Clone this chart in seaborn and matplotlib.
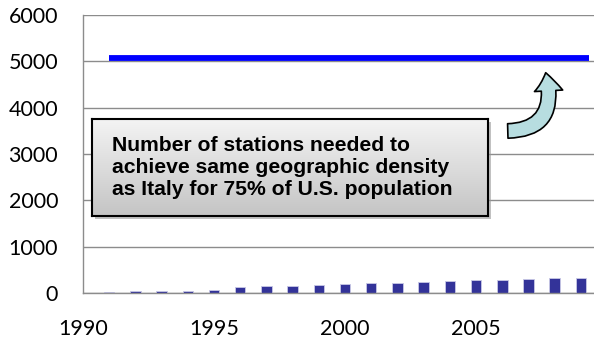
import numpy as np
import pandas as pd
import matplotlib
matplotlib.use("Agg")
import matplotlib.pyplot as plt
import seaborn as sns
from matplotlib.patches import FancyArrowPatch, FancyBboxPatch
from matplotlib.colors import LinearSegmentedColormap

# Stations per year
years = [1991, 1992, 1993, 1994, 1995, 1996, 1997, 1998, 1999, 2000,
         2001, 2002, 2003, 2004, 2005, 2006, 2007, 2008, 2009]
stations = [20, 35, 35, 45, 58, 137, 150, 158, 180, 200,
            209, 223, 245, 259, 273, 288, 310, 324, 331]

# Target level for geographic density
target_years = [1991, 2009.3]
target_value = [5070, 5070]

yticks = [0, 1000, 2000, 3000, 4000, 5000, 6000]
xticks = [1990, 1995, 2000, 2005]
note = ("Number of stations needed to\n"
        "achieve same geographic density\n"
        "as Italy for 75% of U.S. population")

sns.set_theme(style="white")
plt.rcParams['font.family'] = ['Lato', 'DejaVu Sans']

fig = plt.figure(figsize=(5.94, 3.40), dpi=100)
ax = fig.add_axes([83 / 594, 1 - 293 / 340, 1 - 83 / 594, (293 - 15) / 340])

df = pd.DataFrame({"year": years, "stations": stations})
sns.barplot(data=df, x="year", y="stations", native_scale=True, width=0.4,
            color="#333399", saturation=1, edgecolor="#c8c8e6", linewidth=0.6,
            ax=ax, zorder=3)

tdf = pd.DataFrame({"year": target_years, "value": target_value})
sns.lineplot(data=tdf, x="year", y="value", color="#0000ff", linewidth=4.2,
             ax=ax, zorder=4, solid_capstyle="butt")

ax.set_xlim(1990, 2009.5)
ax.set_ylim(0, 6000)
ax.set_yticks(yticks)
ax.set_xticks(xticks)
ax.set_xticklabels([str(t) for t in xticks])
ax.set_yticklabels([str(t) for t in yticks])
ax.set_xlabel("")
ax.set_ylabel("")
ax.yaxis.grid(True, color="#8c8c8c", linewidth=1.0, zorder=0)
ax.xaxis.grid(False)
ax.set_axisbelow(True)
for s in ["top", "right"]:
    ax.spines[s].set_visible(False)
for s in ["left", "bottom"]:
    ax.spines[s].set_color("#8c8c8c")
    ax.spines[s].set_linewidth(1.0)
ax.tick_params(axis="both", which="both", width=1.0, color="#8c8c8c",
               labelsize=15.5, labelcolor="black", direction="out")
ax.tick_params(axis="y", pad=12, length=6)
ax.tick_params(axis="x", pad=12, length=7)
ax.spines["bottom"].set_zorder(5)

# Callout box with a grey gradient and drop shadow
bx0, by0, bw, bh = 92 / 594, 1 - 216 / 340, (488 - 92) / 594, (216 - 119) / 340
shadow = FancyBboxPatch((bx0 + 3 / 594, by0 - 3 / 340), bw, bh,
                        boxstyle="square,pad=0", transform=fig.transFigure,
                        facecolor="#999999", edgecolor="none", alpha=0.6, zorder=6)
fig.patches.append(shadow)
grad = np.linspace(0, 1, 256).reshape(-1, 1)
cmap = LinearSegmentedColormap.from_list("g", ["#c4c4c4", "#f4f4f4"])
gax = fig.add_axes([bx0, by0, bw, bh], zorder=7)
gax.imshow(grad, aspect="auto", cmap=cmap, origin="lower", extent=[0, 1, 0, 1])
gax.set_xticks([])
gax.set_yticks([])
for s in gax.spines.values():
    s.set_color("black")
    s.set_linewidth(1.5)
gax.text(20 / 396, 0.5, note, transform=gax.transAxes, ha="left", va="center",
         fontsize=15.2, fontweight="bold", family=["Liberation Sans", "DejaVu Sans"],
         color="black", linespacing=1.17)

# Curved arrow pointing at the target line
arrow = FancyArrowPatch((505 / 594, 1 - 131 / 340), (545 / 594, 1 - 70 / 340),
                        transform=fig.transFigure,
                        connectionstyle="angle3,angleA=0,angleB=105",
                        arrowstyle="simple,head_width=1.85,head_length=1.2,tail_width=0.95",
                        mutation_scale=11, facecolor="#b7dde0", edgecolor="black",
                        linewidth=1.2, zorder=8)
fig.patches.append(arrow)

fig.savefig("out.png", dpi=100)
